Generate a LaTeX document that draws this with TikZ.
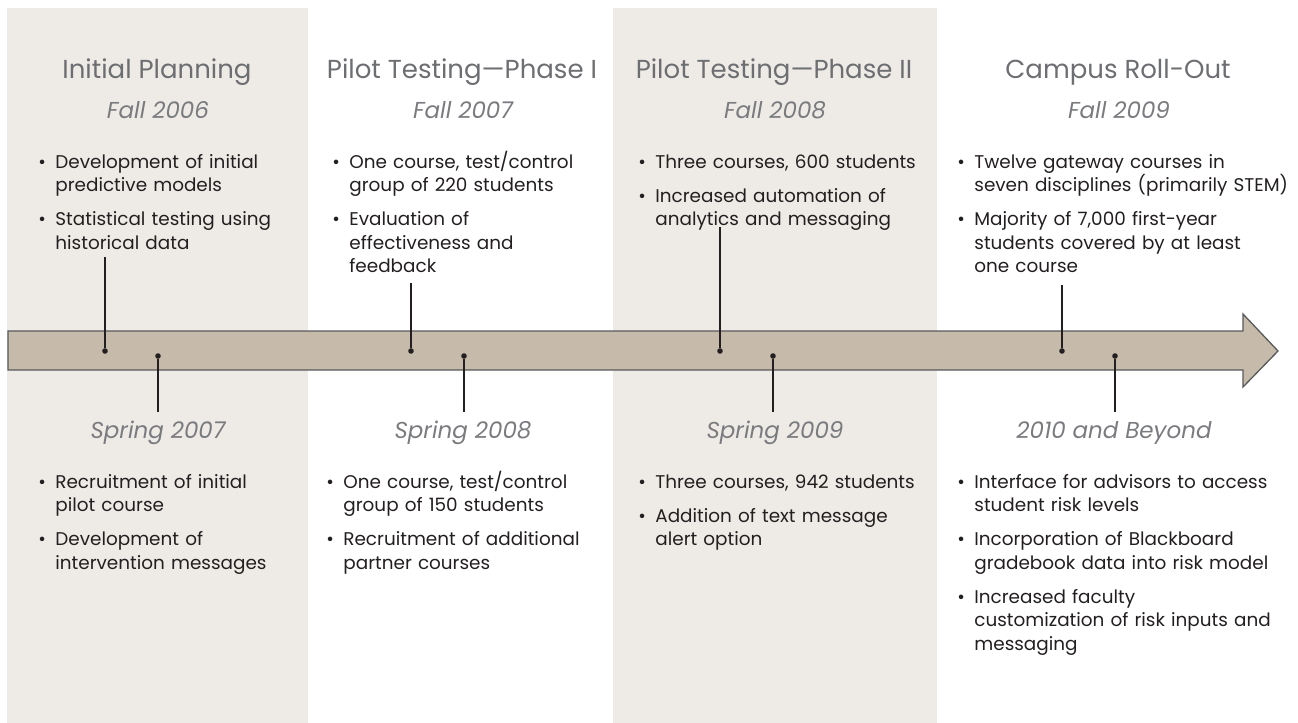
\documentclass[tikz,border=0pt]{standalone}
\usepackage{fontspec}
\setmainfont{Poppins}
\usetikzlibrary{positioning}
\definecolor{tlpanel}{HTML}{EEEBE7}
\definecolor{tlarrow}{HTML}{C6BAAB}
\definecolor{tledge}{HTML}{58595B}
\definecolor{tltitle}{HTML}{6D6E71}
\definecolor{tldate}{HTML}{7A7B7E}
\definecolor{tltext}{HTML}{231F20}
\newcommand{\bitem}[1]{\par\hangindent=8.5pt\hangafter=1\noindent\makebox[8.5pt][l]{\textbullet}#1\par}
\begin{document}
\begin{tikzpicture}[x=0.5pt,y=-0.5pt,
  phase/.style={font=\fontsize{13}{15}\selectfont,text=tltitle,anchor=base,inner sep=0pt},
  when/.style={font=\fontsize{11.5}{14}\selectfont\itshape,text=tldate,anchor=base,inner sep=0pt},
  items/.style={font=\fontsize{9.2}{11.75}\selectfont,text=tltext,anchor=base west,inner sep=0pt,
    text width=172pt,align=left,execute at begin node={\setlength{\parskip}{5.25pt}}},
  tick/.style={circle,fill=tltext,inner sep=0pt,minimum size=2.8pt},
  stem/.style={tltext,line width=.65pt}]
\path[use as bounding box] (0,0) rectangle (1298,723);
\fill[tlpanel] (7,8) rectangle (308,723);
\fill[tlpanel] (613,8) rectangle (937,723);
\draw[tledge,fill=tlarrow,line width=.65pt] (8,331) -- (1243,331) -- (1243,314) -- (1278,351) -- (1243,387) -- (1243,370) -- (8,370) -- cycle;
\begin{scope}
\node[phase] (p06) at (157,78) {Initial Planning};
\node[when] (f06) at (158,118) {Fall 2006};
\node[items] (f06l) at (38,134) {\bitem{Development of initial\newline predictive models}\bitem{Statistical testing using\newline historical data}};
\node[tick] (f06d) at (105,351) {};
\coordinate (f06s) at (105,257);
\draw[stem] (f06s) -- (f06d);
\node[tick] (s07d) at (158,356) {};
\coordinate (s07s) at (158,412);
\draw[stem] (s07d) -- (s07s);
\node[when] (s07) at (158,438) {Spring 2007};
\node[items] (s07l) at (38,454) {\bitem{Recruitment of initial\newline pilot course}\bitem{Development of\newline intervention messages}};
\end{scope}
\begin{scope}
\node[phase] (p07) at (462,78) {Pilot Testing---Phase I};
\node[when] (f07) at (463,118) {Fall 2007};
\node[items] (f07l) at (332,134) {\bitem{One course, test/control\newline group of 220 students}\bitem{Evaluation of\newline effectiveness and\newline feedback}};
\node[tick] (f07d) at (411,351) {};
\coordinate (f07s) at (411,283);
\draw[stem] (f07s) -- (f07d);
\node[tick] (s08d) at (464,356) {};
\coordinate (s08s) at (464,412);
\draw[stem] (s08d) -- (s08s);
\node[when] (s08) at (463,438) {Spring 2008};
\node[items] (s08l) at (326,454) {\bitem{One course, test/control\newline group of 150 students}\bitem{Recruitment of additional\newline partner courses}};
\end{scope}
\begin{scope}
\node[phase] (p08) at (774,78) {Pilot Testing---Phase II};
\node[when] (f08) at (775,118) {Fall 2008};
\node[items] (f08l) at (638,134) {\bitem{Three courses, 600 students}\bitem{Increased automation of\newline analytics and messaging}};
\node[tick] (f08d) at (720,351) {};
\coordinate (f08s) at (720,227);
\draw[stem] (f08s) -- (f08d);
\node[tick] (s09d) at (773,356) {};
\coordinate (s09s) at (773,412);
\draw[stem] (s09d) -- (s09s);
\node[when] (s09) at (775,438) {Spring 2009};
\node[items] (s09l) at (638,454) {\bitem{Three courses, 942 students}\bitem{Addition of text message\newline alert option}};
\end{scope}
\begin{scope}
\node[phase] (p09) at (1118,78) {Campus Roll-Out};
\node[when] (f09) at (1119,118) {Fall 2009};
\node[items] (f09l) at (957,134) {\bitem{Twelve gateway courses in\newline seven disciplines (primarily STEM)}\bitem{Majority of 7,000 first-year\newline students covered by at least\newline one course}};
\node[tick] (f09d) at (1062,351) {};
\coordinate (f09s) at (1062,285);
\draw[stem] (f09s) -- (f09d);
\node[tick] (b10d) at (1115,356) {};
\coordinate (b10s) at (1115,412);
\draw[stem] (b10d) -- (b10s);
\node[when] (b10) at (1114,438) {2010 and Beyond};
\node[items] (b10l) at (957,454) {\bitem{Interface for advisors to access\newline student risk levels}\bitem{Incorporation of Blackboard\newline gradebook data into risk model}\bitem{Increased faculty\newline customization of risk inputs and\newline messaging}};
\end{scope}
\end{tikzpicture}
\end{document}
